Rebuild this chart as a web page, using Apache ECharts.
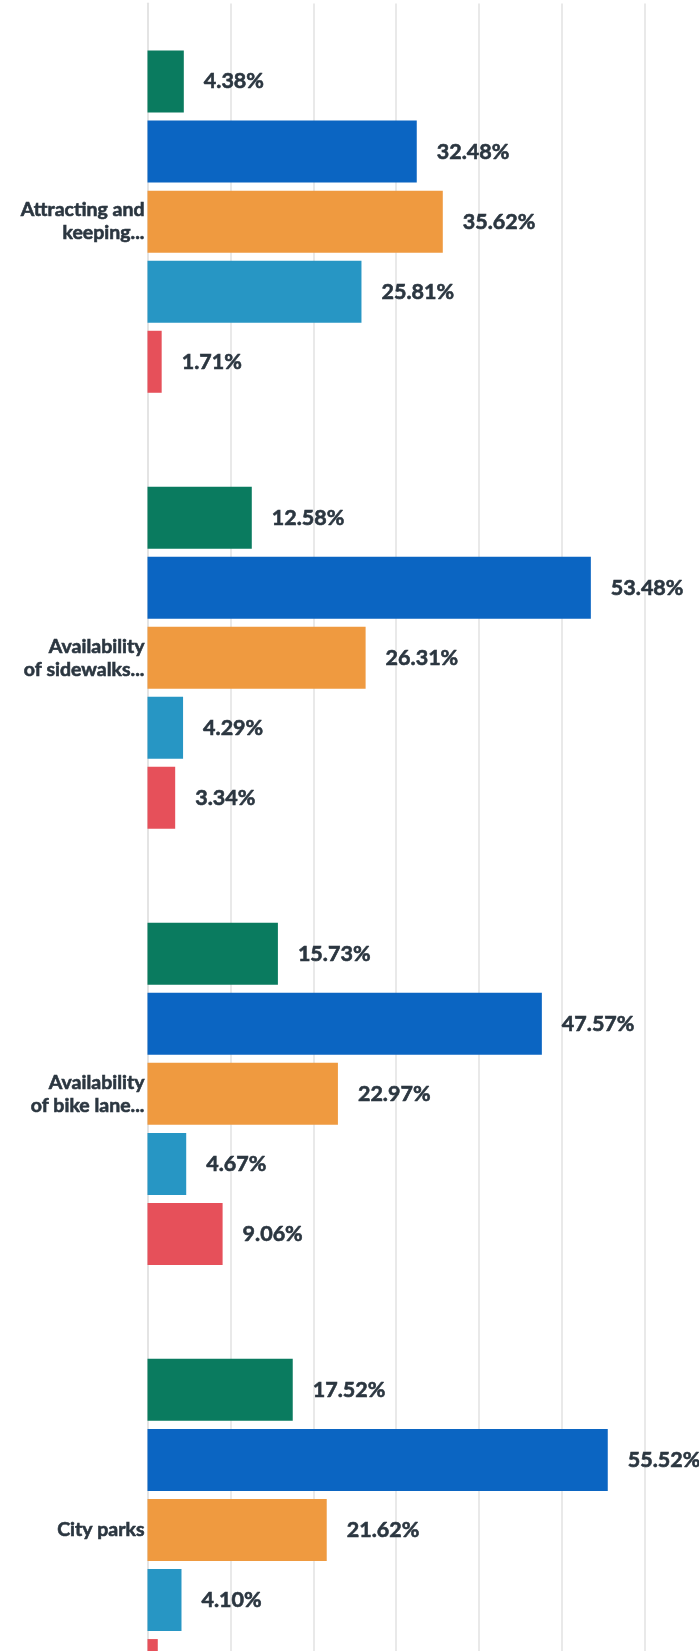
<!DOCTYPE html>
<html>
<head>
<meta charset="utf-8">
<script src="https://cdn.jsdelivr.net/npm/echarts@6/dist/echarts.min.js"></script>
<style>
  html, body { margin: 0; padding: 0; background: #ffffff; }
  #chart { width: 699px; height: 1651px; }
</style>
</head>
<body>
<div id="chart"></div>
<script>
// Survey answers per topic, share of respondents (%)
const categories = [
  'Attracting and\nkeeping...',
  'Availability\nof sidewalks...',
  'Availability\nof bike lane...',
  'City parks'
];
const seriesNames = ['Answer 1', 'Answer 2', 'Answer 3', 'Answer 4', 'Answer 5'];
const answer1 = [4.38, 12.58, 15.73, 17.52];
const answer2 = [32.48, 53.48, 47.57, 55.52];
const answer3 = [35.62, 26.31, 22.97, 21.62];
const answer4 = [25.81, 4.29, 4.67, 4.10];
const answer5 = [1.71, 3.34, 9.06, 1.24];
const colors = ['#0a7b5f', '#0b65c2', '#ef9a40', '#2796c4', '#e6505a'];
const xTicks = { min: 0, max: 100, interval: 10 };

const values = [answer1, answer2, answer3, answer4, answer5];
const textColor = '#2b3640';

const chart = echarts.init(document.getElementById('chart'), null, { renderer: 'canvas' });

chart.setOption({
  animation: false,
  backgroundColor: '#ffffff',
  // the plot runs past the right and bottom edges of the page
  grid: {
    left: 147.5, top: 3.6, width: 829, height: 1744.4,
    containLabel: false,
    outerBoundsMode: 'none'
  },
  xAxis: {
    type: 'value',
    min: xTicks.min,
    max: xTicks.max,
    interval: xTicks.interval,
    axisLabel: { show: false },
    axisTick: { show: false },
    axisLine: { show: false },
    splitLine: { show: true, lineStyle: { color: '#e9e9e9', width: 2 } }
  },
  yAxis: {
    type: 'category',
    inverse: true,
    data: categories,
    axisTick: { show: false },
    axisLine: { show: true, lineStyle: { color: '#e4e4e4', width: 2 } },
    axisLabel: {
      margin: 3,
      align: 'right',
      color: textColor,
      fontFamily: 'Lato',
      fontWeight: 'bold',
      fontSize: 19.5,
      lineHeight: 23,
      textBorderColor: textColor,
      textBorderWidth: 0.6
    }
  },
  series: values.map((arr, i) => ({
    name: seriesNames[i],
    type: 'bar',
    data: arr,
    barWidth: 62,
    barGap: '13%',
    itemStyle: { color: colors[i] },
    label: {
      show: true,
      position: 'right',
      distance: 20,
      color: textColor,
      fontFamily: 'Lato',
      fontWeight: 'bold',
      fontSize: 21.5,
      textBorderColor: textColor,
      textBorderWidth: 0.6,
      formatter: p => p.value.toFixed(2) + '%'
    }
  }))
});
</script>
</body>
</html>
